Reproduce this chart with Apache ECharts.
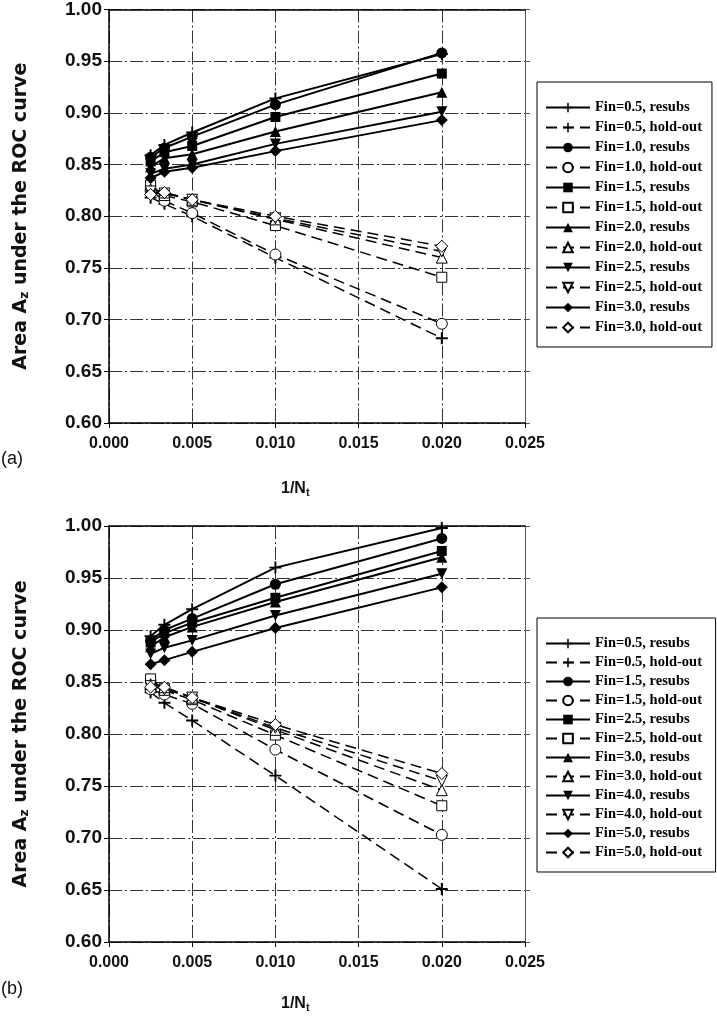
<!DOCTYPE html>
<html><head><meta charset="utf-8">
<script src="https://cdn.jsdelivr.net/npm/echarts@6/dist/echarts.min.js"></script>
<style>html,body{margin:0;padding:0;background:#fff}#c{width:717px;height:1020px}</style>
</head><body><div id="c"></div>
<script>
// x values (1/Nt)
const xs = [0.0025, 0.00333, 0.005, 0.01, 0.02];
const xTicks = ['0.000','0.005','0.010','0.015','0.020','0.025'];
const yTicks = ['0.60','0.65','0.70','0.75','0.80','0.85','0.90','0.95','1.00'];

// Panel (a)
const finsA = ['0.5','1.0','1.5','2.0','2.5','3.0'];
const resubsA = [
  [0.859, 0.869, 0.881, 0.914, 0.957],
  [0.857, 0.866, 0.877, 0.908, 0.958],
  [0.853, 0.862, 0.868, 0.896, 0.938],
  [0.848, 0.856, 0.860, 0.882, 0.920],
  [0.841, 0.846, 0.850, 0.870, 0.901],
  [0.837, 0.843, 0.847, 0.863, 0.893]
];
const holdA = [
  [0.818, 0.812, 0.800, 0.760, 0.682],
  [0.825, 0.815, 0.803, 0.763, 0.696],
  [0.830, 0.820, 0.814, 0.791, 0.741],
  [0.826, 0.823, 0.816, 0.797, 0.760],
  [0.824, 0.822, 0.816, 0.798, 0.766],
  [0.821, 0.823, 0.816, 0.800, 0.771]
];

// Panel (b)
const finsB = ['0.5','1.5','2.5','3.0','4.0','5.0'];
const resubsB = [
  [0.894, 0.905, 0.920, 0.960, 0.998],
  [0.890, 0.900, 0.911, 0.944, 0.988],
  [0.888, 0.897, 0.907, 0.931, 0.976],
  [0.884, 0.893, 0.903, 0.927, 0.970],
  [0.877, 0.883, 0.890, 0.914, 0.954],
  [0.867, 0.871, 0.879, 0.902, 0.941]
];
const holdB = [
  [0.840, 0.830, 0.813, 0.760, 0.651],
  [0.843, 0.838, 0.829, 0.785, 0.703],
  [0.853, 0.842, 0.833, 0.799, 0.731],
  [0.848, 0.845, 0.835, 0.804, 0.746],
  [0.846, 0.843, 0.835, 0.806, 0.755],
  [0.845, 0.845, 0.835, 0.809, 0.762]
];

const CROSS = 'path://M4.2,0H5.8V4.2H10V5.8H5.8V10H4.2V5.8H0V4.2H4.2Z';
const symbols = [CROSS, 'circle', 'rect', 'triangle', 'triangle', 'diamond'];
const rotates = [0, 0, 0, 0, 180, 0];
const sizes = [12, 11, 10, 11, 11, 12];

const sans = 'Liberation Sans, Arial, sans-serif';
const titleFont = 'DejaVu Sans, Liberation Sans, sans-serif';
const serif = 'Liberation Serif, Times New Roman, serif';
const gridDash = [13, 3, 2, 3];

function makeSeries(fins, res, hold, gi, suffix) {
  const out = [];
  fins.forEach((f, i) => {
    out.push({
      name: 'Fin=' + f + ', resubs' + suffix, type: 'line', xAxisIndex: gi*2, yAxisIndex: gi*2,
      data: xs.map((x, k) => [x, res[i][k]]),
      symbol: symbols[i], symbolRotate: rotates[i], symbolSize: sizes[i],
      lineStyle: {color: '#000', width: 2, type: 'solid'},
      itemStyle: {color: '#000', borderColor: '#000', borderWidth: 0},
      z: 5, animation: false
    });
    out.push({
      name: 'Fin=' + f + ', hold-out' + suffix, type: 'line', xAxisIndex: gi*2, yAxisIndex: gi*2,
      data: xs.map((x, k) => [x, hold[i][k]]),
      symbol: symbols[i], symbolRotate: rotates[i], symbolSize: sizes[i],
      lineStyle: {color: '#000', width: 1.5, type: [11, 6]},
      itemStyle: i === 0 ? {color: '#000', borderWidth: 0} : {color: '#fff', borderColor: '#000', borderWidth: 1},
      z: 4, animation: false
    });
  });
  return out;
}

const tops = [7, 526];
const grids = tops.map(t => ({left: 109, top: t, width: 416, height: 416, containLabel: false}));

const xAxes = [], yAxes = [];
tops.forEach((t, gi) => {
  xAxes.push({
    type: 'value', gridIndex: gi, min: 0, max: 0.025, interval: 0.005, position: 'bottom',
    axisLine: {show: true, onZero: false, lineStyle: {color: '#000', width: 1.5}},
    axisTick: {show: true, inside: false, length: 5, lineStyle: {color: '#000'}},
    axisLabel: {formatter: v => xTicks[Math.round(v / 0.005)], color: '#111', fontFamily: sans, fontWeight: 'bold', fontSize: 16, margin: 13},
    splitLine: {show: true, lineStyle: {color: '#333', width: 1, type: gridDash}}
  });
  xAxes.push({
    type: 'value', gridIndex: gi, min: 0, max: 0.025, interval: 0.005, position: 'top',
    axisLine: {show: true, onZero: false, lineStyle: {color: '#000', width: 1.5}},
    axisTick: {show: false}, axisLabel: {show: false}, splitLine: {show: false}
  });
  yAxes.push({
    type: 'value', gridIndex: gi, min: 0.6, max: 1.0, interval: 0.05, position: 'left',
    axisLine: {show: true, onZero: false, lineStyle: {color: '#000', width: 1.5}},
    axisTick: {show: true, inside: false, length: 5, lineStyle: {color: '#000'}},
    axisLabel: {formatter: v => yTicks[Math.round((v - 0.6) / 0.05)], color: '#111', fontFamily: sans, fontWeight: 'bold', fontSize: 19, margin: 7},
    splitLine: {show: true, lineStyle: {color: '#333', width: 1, type: gridDash}},
    name: 'Area A{sub|z} under the ROC curve', nameLocation: 'middle', nameRotate: 90, nameGap: 78,
    nameTextStyle: {color: '#111', fontFamily: titleFont, fontWeight: 'bold', fontSize: 19,
      rich: {sub: {fontFamily: titleFont, fontWeight: 'bold', fontSize: 12, padding: [8, 0, 0, 0], color: '#111'}}}
  });
  yAxes.push({
    type: 'value', gridIndex: gi, min: 0.6, max: 1.0, interval: 0.05, position: 'right',
    axisLine: {show: true, onZero: false, lineStyle: {color: '#555', width: 1}},
    axisTick: {show: true, inside: false, length: 5, lineStyle: {color: '#555'}},
    axisLabel: {show: false}, splitLine: {show: false}
  });
});

function legendFor(fins, suffix, top, gap) {
  const names = [];
  fins.forEach(f => { names.push('Fin=' + f + ', resubs' + suffix); names.push('Fin=' + f + ', hold-out' + suffix); });
  return {
    data: names, orient: 'vertical', left: 537, top: top, itemWidth: 44, itemHeight: 12, itemGap: gap,
    padding: [18, 10, 12, 8], backgroundColor: '#fff', borderColor: '#000', borderWidth: 1,
    textStyle: {fontFamily: serif, fontWeight: 'bold', fontSize: 14.5, lineHeight: 14, color: '#000', padding: [0, 0, 0, 0]},
    selectedMode: false
  };
}

const subTitle = (y, x) => ({
  type: 'text', left: x, top: y,
  style: {text: '1/N{s|t}', fill: '#111', font: 'bold 16px ' + sans,
    rich: {s: {fontFamily: sans, fontWeight: 'bold', fontSize: 11, padding: [7, 0, 0, 0], fill: '#111'}}}
});

const option = {
  backgroundColor: '#fff',
  animation: false,
  grid: grids,
  xAxis: xAxes,
  yAxis: yAxes,
  legend: [legendFor(finsA, '', 82, 5), legendFor(finsB, ' ', 618, 4)],
  graphic: [
    {type: 'text', left: 1, top: 450, style: {text: '(a)', fill: '#111', font: '18px ' + sans}},
    {type: 'text', left: 1, top: 980, style: {text: '(b)', fill: '#111', font: '18px ' + sans}},
    subTitle(481, 281),
    subTitle(996, 281)
  ],
  series: [].concat(makeSeries(finsA, resubsA, holdA, 0, ''), makeSeries(finsB, resubsB, holdB, 1, ' '))
};

const chart = echarts.init(document.getElementById('c'), null, {renderer: 'canvas'});
chart.setOption(option);
</script></body></html>
